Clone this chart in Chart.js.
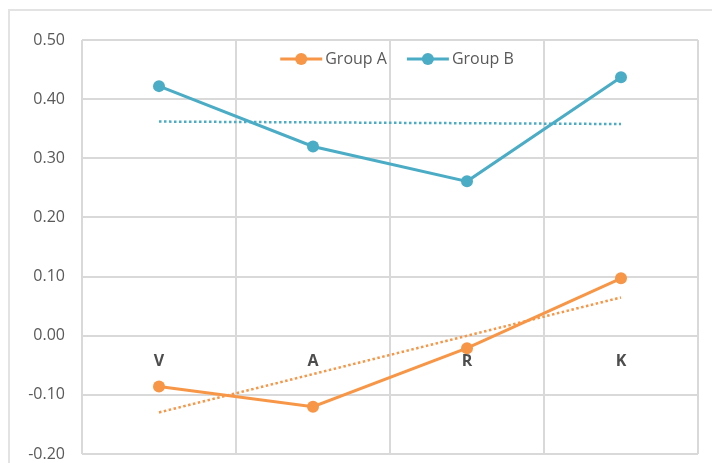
<!DOCTYPE html>
<html>
<head>
<meta charset="utf-8">
<title>Group A vs Group B</title>
<script src="https://cdn.jsdelivr.net/npm/chart.js@4/dist/chart.umd.min.js"></script>
<style>
  html, body { margin: 0; padding: 0; background: #ffffff; overflow: hidden; }
  #wrap { position: relative; width: 712px; height: 463px; }
  #frame { position: absolute; left: 8px; top: 9px; width: 820px; height: 600px;
           border: 2px solid #e3e3e3; box-sizing: border-box; }
  canvas { position: absolute; left: 0; top: 0; }
</style>
</head>
<body>
<div id="wrap">
  <div id="frame"></div>
  <canvas id="chart" width="712" height="463"></canvas>
</div>
<script>
// Categories and series values
const categories = ['V', 'A', 'R', 'K'];
const groupA = [-0.086, -0.120, -0.021, 0.097];
const groupB = [0.422, 0.320, 0.261, 0.437];
const seriesNames = ['Group A', 'Group B'];
const yTicks = [-0.20, -0.10, 0.00, 0.10, 0.20, 0.30, 0.40, 0.50];

const ORANGE = '#F79646';
const BLUE = '#4BACC6';
const GRID = '#d9d9d9';
const TEXT = '#595959';

// Least-squares linear trend over the category index (1..n)
function linearTrend(values) {
  const n = values.length;
  const xs = values.map((_, i) => i + 1);
  const mx = xs.reduce((a, b) => a + b, 0) / n;
  const my = values.reduce((a, b) => a + b, 0) / n;
  let sxy = 0, sxx = 0;
  for (let i = 0; i < n; i++) {
    sxy += (xs[i] - mx) * (values[i] - my);
    sxx += (xs[i] - mx) * (xs[i] - mx);
  }
  const slope = sxy / sxx;
  return xs.map(x => my + slope * (x - mx));
}

// Legend drawn inside the plot area, line + marker symbols
const innerLegend = {
  id: 'innerLegend',
  afterDraw(chart) {
    const ctx = chart.ctx;
    const area = chart.chartArea;
    const items = chart.data.datasets.filter(d => !d.isTrend);
    ctx.save();
    ctx.font = '16px "Open Sans"';
    const lineLen = 42, gapText = 3, gapItem = 20;
    const widths = items.map(d => lineLen + gapText + ctx.measureText(d.label).width);
    const total = widths.reduce((a, b) => a + b, 0) + gapItem * (items.length - 1);
    let x = (area.left + area.right) / 2 + 7 - total / 2;
    const y = area.top + 19;
    items.forEach((d, i) => {
      ctx.strokeStyle = d.borderColor;
      ctx.lineWidth = 3;
      ctx.beginPath();
      ctx.moveTo(x, y);
      ctx.lineTo(x + lineLen, y);
      ctx.stroke();
      ctx.fillStyle = d.borderColor;
      ctx.beginPath();
      ctx.arc(x + lineLen / 2, y, 6, 0, Math.PI * 2);
      ctx.fill();
      ctx.fillStyle = TEXT;
      ctx.textBaseline = 'middle';
      ctx.textAlign = 'left';
      ctx.fillText(d.label, x + lineLen + gapText, y);
      x += widths[i] + gapItem;
    });
    ctx.restore();
  }
};

const lineStyle = (color) => ({
  borderColor: color,
  backgroundColor: color,
  borderWidth: 3,
  pointRadius: 6,
  pointHoverRadius: 6,
  pointBorderWidth: 0,
  pointBackgroundColor: color,
  tension: 0,
  fill: false
});

const trendStyle = (color) => ({
  isTrend: true,
  borderColor: color,
  borderWidth: 2.5,
  borderDash: [2.5, 2.5],
  borderCapStyle: 'butt',
  pointRadius: 0,
  pointHoverRadius: 0,
  tension: 0,
  fill: false
});

new Chart(document.getElementById('chart'), {
  type: 'line',
  data: {
    labels: categories,
    datasets: [
      Object.assign({ label: seriesNames[0], data: groupA, order: 1 }, lineStyle(ORANGE)),
      Object.assign({ label: seriesNames[1], data: groupB, order: 1 }, lineStyle(BLUE)),
      Object.assign({ label: seriesNames[0] + ' trend', data: linearTrend(groupA), order: 2 }, trendStyle(ORANGE)),
      Object.assign({ label: seriesNames[1] + ' trend', data: linearTrend(groupB), order: 2 }, trendStyle(BLUE))
    ]
  },
  options: {
    responsive: false,
    animation: false,
    layout: { padding: { top: 40, right: 14, bottom: 9, left: 0 } },
    plugins: {
      legend: { display: false },
      tooltip: { enabled: false }
    },
    scales: {
      x: {
        type: 'category',
        position: { y: 0 },
        offset: true,
        afterFit(scale) { scale.height = 0; },
        grid: { offset: true, color: GRID, lineWidth: 2, drawTicks: false },
        border: { display: true, color: GRID, width: 2 },
        ticks: {
          color: '#4d4d4d',
          font: { family: '"Open Sans"', size: 16, weight: 'bold' },
          padding: 16,
          maxRotation: 0
        }
      },
      y: {
        position: 'left',
        min: yTicks[0],
        max: yTicks[yTicks.length - 1],
        afterBuildTicks(scale) { scale.ticks = yTicks.map(v => ({ value: v })); },
        afterFit(scale) {
          scale.width = 82;
          scale.paddingTop = 0;
          scale.paddingBottom = 0;
        },
        grid: { color: GRID, lineWidth: 2, drawTicks: false },
        border: { display: false },
        ticks: {
          color: TEXT,
          font: { family: '"Open Sans"', size: 16 },
          padding: 17,
          callback: (v) => Number(v).toFixed(2)
        }
      }
    }
  },
  plugins: [innerLegend]
});
</script>
</body>
</html>
